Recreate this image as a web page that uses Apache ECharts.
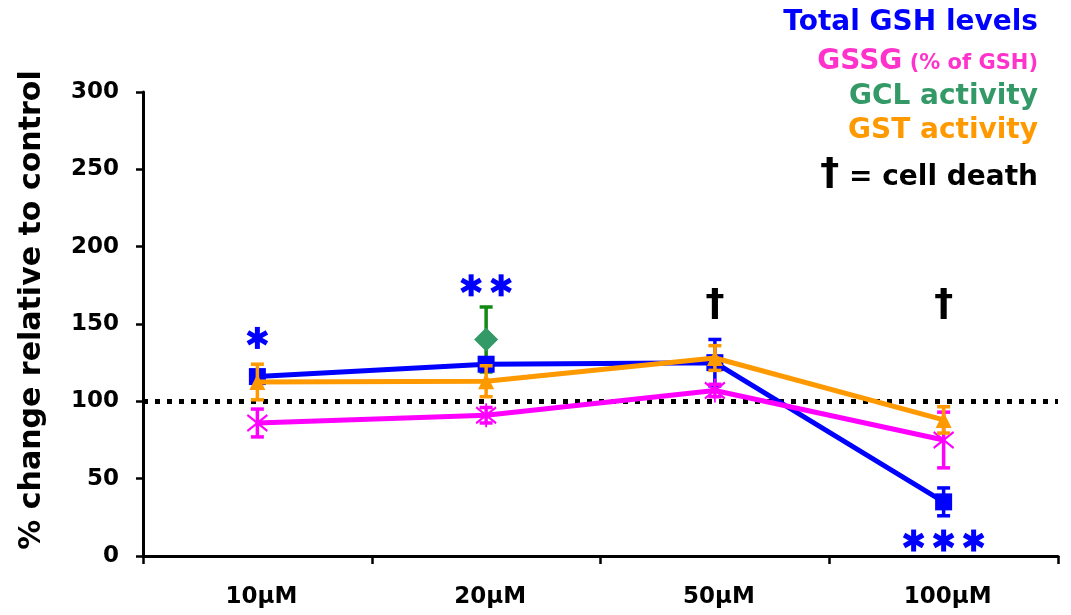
<!DOCTYPE html>
<html>
<head>
<meta charset="utf-8">
<script src="https://cdn.jsdelivr.net/npm/echarts@6/dist/echarts.min.js"></script>
<style>
  html, body { margin: 0; padding: 0; background: #ffffff; }
  #chart { width: 1071px; height: 615px; }
</style>
</head>
<body>
<div id="chart"></div>
<script>
// Treatment concentrations
const categories = ['10µM', '20µM', '50µM', '100µM'];

// Mean % change relative to control and error (± SEM) for each measure
const gshMean  = [116, 124, 125, 35];
const gshErr   = [3, 3, 15, 9];
const gssgMean = [86, 91, 107, 75];
const gssgErr  = [9, 5, 4, 18];
const gclMean  = [null, 140, null, null];
const gclErr   = [null, 21, null, null];
const gstMean  = [112.5, 113, 128, 88];
const gstErr   = [11.5, 10, 8, 8.5];

// Control reference level
const controlLevel = 100;

// Y axis range
const yMin = 0, yMax = 300, yStep = 50;

// Significance asterisks: category, height, number of stars
const sigMarks = [
  ['10µM', 141, 1],
  ['20µM', 175, 2],
  ['100µM', 10, 3]
];
// Cell death markers: category, height
const deathMarks = [
  ['50µM', 162],
  ['100µM', 162]
];

const BLUE = '#0000ff', MAGENTA = '#ff00ff', GREEN = '#339966', GREEN_BAR = '#138a13', ORANGE = '#ff9900';
const FONT = 'DejaVu Sans';

function errData(mean, err) {
  const out = [];
  mean.forEach((m, i) => { if (m != null) out.push([i, m, err[i]]); });
  return out;
}

function errorSeries(mean, err, color, z) {
  return {
    type: 'custom',
    z: z,
    silent: true,
    data: errData(mean, err),
    renderItem: function (params, api) {
      const x = api.value(0), m = api.value(1), e = api.value(2);
      const top = api.coord([x, m + e]);
      const bot = api.coord([x, m - e]);
      const hw = 6.5;
      const st = { stroke: color, lineWidth: 3.5 };
      return {
        type: 'group',
        children: [
          { type: 'line', shape: { x1: top[0], y1: top[1], x2: bot[0], y2: bot[1] }, style: st },
          { type: 'line', shape: { x1: top[0] - hw, y1: top[1], x2: top[0] + hw, y2: top[1] }, style: st },
          { type: 'line', shape: { x1: bot[0] - hw, y1: bot[1], x2: bot[0] + hw, y2: bot[1] }, style: st }
        ]
      };
    }
  };
}

function asterisk(cx, cy, r, color) {
  const dx = r * Math.cos(Math.PI / 6), dy = r * Math.sin(Math.PI / 6);
  const st = { stroke: color, lineWidth: 5 };
  return [
    { type: 'line', shape: { x1: cx, y1: cy - r, x2: cx, y2: cy + r }, style: st },
    { type: 'line', shape: { x1: cx - dx, y1: cy - dy, x2: cx + dx, y2: cy + dy }, style: st },
    { type: 'line', shape: { x1: cx - dx, y1: cy + dy, x2: cx + dx, y2: cy - dy }, style: st }
  ];
}

const chart = echarts.init(document.getElementById('chart'), null, { renderer: 'canvas' });

const option = {
  animation: false,
  backgroundColor: '#ffffff',
  grid: { left: 143, right: 13, top: 92, bottom: 59, containLabel: false },
  xAxis: {
    type: 'category',
    data: categories,
    boundaryGap: true,
    axisLine: { lineStyle: { color: '#000', width: 3 } },
    axisTick: { show: true, length: 8, interval: 0, lineStyle: { color: '#000', width: 2.5 } },
    axisLabel: { color: '#000', fontFamily: FONT, fontWeight: 'bold', fontSize: 23, margin: 30, padding: [0, 0, 0, 8] },
    splitLine: { show: false }
  },
  yAxis: {
    type: 'value',
    min: yMin, max: yMax, interval: yStep,
    axisLine: { show: true, lineStyle: { color: '#000', width: 3 } },
    axisTick: { show: true, length: 7, lineStyle: { color: '#000', width: 2.5 } },
    axisLabel: { color: '#000', fontFamily: FONT, fontWeight: 'bold', fontSize: 23, margin: 24 },
    splitLine: { show: false }
  },
  graphic: [
    {
      type: 'text', x: 32, y: 310, rotation: Math.PI / 2,
      style: { text: '% change relative to control', font: 'bold 30px ' + FONT, fill: '#000', align: 'center', verticalAlign: 'middle' }
    },
    {
      type: 'text', x: 1038, y: 23,
      style: { text: 'Total GSH levels', font: 'bold 28px ' + FONT, fill: BLUE, align: 'right', verticalAlign: 'middle' }
    },
    {
      type: 'text', x: 1038, y: 62,
      style: {
        text: '{a|GSSG}{b| (% of GSH)}', align: 'right', verticalAlign: 'middle',
        rich: {
          a: { font: 'bold 28px ' + FONT, fill: '#ff33cc' },
          b: { font: 'bold 21px ' + FONT, fill: '#ff33cc', padding: [4, 0, 0, 0] }
        }
      }
    },
    {
      type: 'text', x: 1038, y: 97,
      style: { text: 'GCL activity', font: 'bold 28px ' + FONT, fill: GREEN, align: 'right', verticalAlign: 'middle' }
    },
    {
      type: 'text', x: 1038, y: 131,
      style: { text: 'GST activity', font: 'bold 28px ' + FONT, fill: ORANGE, align: 'right', verticalAlign: 'middle' }
    },
    {
      type: 'text', x: 1038, y: 178,
      style: {
        text: '{d|†}{t| = cell death}', align: 'right', verticalAlign: 'middle',
        rich: {
          d: { font: 'bold 38px ' + FONT, fill: '#000', padding: [0, 0, 8, 0] },
          t: { font: 'bold 28px ' + FONT, fill: '#000' }
        }
      }
    }
  ],
  series: [
    // GCL activity (drawn beneath the others)
    errorSeries(gclMean, gclErr, GREEN_BAR, 2),
    {
      name: 'GCL activity', type: 'line', z: 3, data: gclMean,
      symbol: 'diamond', symbolSize: 24,
      itemStyle: { color: GREEN },
      lineStyle: { width: 0 }
    },
    // Total GSH levels
    errorSeries(gshMean, gshErr, BLUE, 4),
    {
      name: 'Total GSH levels', type: 'line', z: 5, data: gshMean,
      symbol: 'rect', symbolSize: 17,
      itemStyle: { color: BLUE },
      lineStyle: { color: BLUE, width: 5 }
    },
    // GSSG
    errorSeries(gssgMean, gssgErr, MAGENTA, 6),
    {
      name: 'GSSG', type: 'line', z: 7, data: gssgMean,
      symbol: 'path://M10,0L10,24M0,4L20,20M0,20L20,4', symbolSize: [20, 24],
      itemStyle: { color: MAGENTA, borderColor: MAGENTA, borderWidth: 2 },
      lineStyle: { color: MAGENTA, width: 5 }
    },
    // GST activity
    errorSeries(gstMean, gstErr, ORANGE, 8),
    {
      name: 'GST activity', type: 'line', z: 9, data: gstMean,
      symbol: 'triangle', symbolSize: 16,
      itemStyle: { color: ORANGE },
      lineStyle: { color: ORANGE, width: 5 },
      markLine: {
        silent: true, symbol: 'none', label: { show: false },
        lineStyle: { color: '#000', width: 5, type: [5, 7], cap: 'butt' },
        data: [{ yAxis: controlLevel }]
      }
    },
    // Significance asterisks
    {
      type: 'custom', z: 10, silent: true,
      data: sigMarks.map(d => [categories.indexOf(d[0]), d[1], d[2]]),
      renderItem: function (params, api) {
        const p = api.coord([api.value(0), api.value(1)]);
        const n = api.value(2), gap = 30;
        let children = [];
        for (let k = 0; k < n; k++) {
          const cx = p[0] + (k - (n - 1) / 2) * gap;
          children = children.concat(asterisk(cx, p[1], 11, BLUE));
        }
        return { type: 'group', children: children };
      }
    },
    // Cell death markers
    {
      type: 'custom', z: 10, silent: true,
      data: deathMarks.map(d => [categories.indexOf(d[0]), d[1]]),
      renderItem: function (params, api) {
        const p = api.coord([api.value(0), api.value(1)]);
        return {
          type: 'text', x: p[0], y: p[1],
          style: { text: '†', font: 'bold 38px ' + FONT, fill: '#000', align: 'center', verticalAlign: 'middle' }
        };
      }
    }
  ]
};

chart.setOption(option);
</script>
</body>
</html>
